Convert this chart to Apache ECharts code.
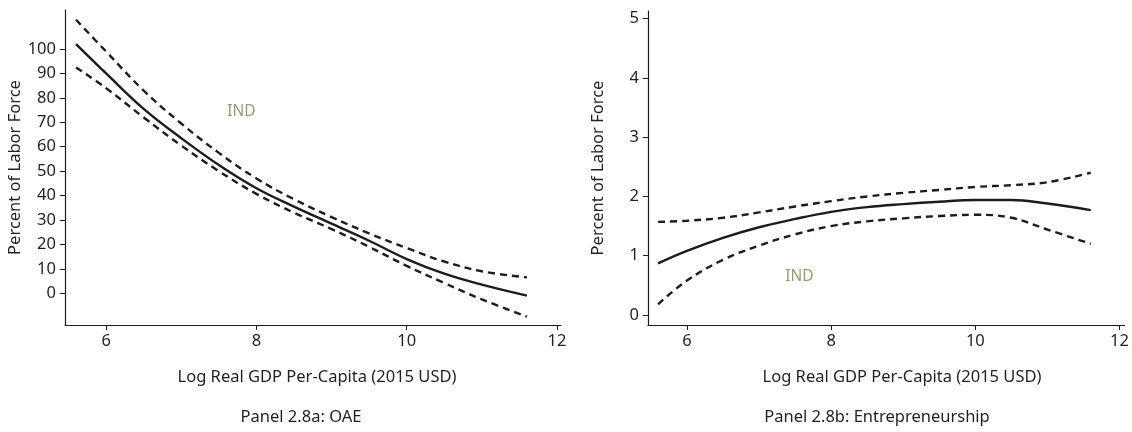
<!DOCTYPE html>
<html>
<head>
<meta charset="utf-8">
<script src="https://cdn.jsdelivr.net/npm/echarts@6/dist/echarts.min.js"></script>
<style>
  html, body { margin: 0; padding: 0; background: #fff; }
  #chart { width: 1132px; height: 432px; }
</style>
</head>
<body>
<div id="chart"></div>
<script>
// Log real GDP per-capita grid on which the fitted curves are evaluated
const gdpGrid = [5.6, 6.0, 6.5, 7.0, 7.5, 8.0, 8.5, 9.0, 9.5, 10.0, 10.5, 11.0, 11.6];

// Panel 2.8a: own-account employment (OAE), percent of labor force
const oaeFit   = [102, 90, 75.5, 63.5, 52.5, 43, 35.5, 28.5, 21.5, 14, 8, 3.5, -1];
const oaeUpper = [112, 99, 83, 69.5, 57.5, 47, 38.5, 31.2, 24.5, 18.5, 13, 9, 6.5];
const oaeLower = [92.5, 84, 72, 60.5, 50, 40.7, 33, 26.3, 19, 11.2, 4.2, -2.5, -9.6];

// Panel 2.8b: entrepreneurship, percent of labor force
const entFit   = [0.87, 1.08, 1.30, 1.48, 1.62, 1.74, 1.82, 1.87, 1.91, 1.94, 1.94, 1.88, 1.77];
const entUpper = [1.57, 1.59, 1.64, 1.73, 1.83, 1.92, 2.00, 2.06, 2.11, 2.16, 2.19, 2.24, 2.40];
const entLower = [0.18, 0.58, 0.93, 1.17, 1.36, 1.50, 1.58, 1.63, 1.67, 1.69, 1.64, 1.44, 1.20];

// India's position in each panel
const indOAE = [7.80, 74.6];
const indEnt = [7.56, 0.64];

// Tick labels
const xTicks = [6, 8, 10, 12];
const yTicksOAE = [0, 10, 20, 30, 40, 50, 60, 70, 80, 90, 100];
const yTicksEnt = [0, 1, 2, 3, 4, 5];

const FONT = 'Noto Sans';
const FS = 16.5;
const TXT = '#231f20';
const INK = '#1c1c1c';
const IND_COLOR = '#7f7f50';

const pairs = (xs, ys) => xs.map((x, i) => [x, ys[i]]);

function xAxis(gridIndex, min, max) {
  return {
    type: 'value', gridIndex, min, max,
    axisLine: { show: true, onZero: false, lineStyle: { color: INK, width: 1.2 } },
    axisTick: { show: true, length: 5, customValues: xTicks, lineStyle: { color: INK } },
    axisLabel: { customValues: xTicks, margin: 8, color: TXT, fontFamily: FONT, fontSize: FS },
    splitLine: { show: false }
  };
}
function yAxis(gridIndex, min, max, ticks, gap) {
  return {
    type: 'value', gridIndex, min, max,
    name: 'Percent of Labor Force', nameLocation: 'middle', nameGap: gap,
    nameTextStyle: { color: TXT, fontFamily: FONT, fontSize: FS },
    axisLine: { show: true, onZero: false, lineStyle: { color: INK, width: 1.2 } },
    axisTick: { show: true, length: 5, customValues: ticks, lineStyle: { color: INK } },
    axisLabel: { customValues: ticks, margin: 9, color: TXT, fontFamily: FONT, fontSize: FS },
    splitLine: { show: false }
  };
}
function curve(xi, yi, data, dashed) {
  return {
    type: 'line', xAxisIndex: xi, yAxisIndex: yi, data, smooth: 0.4,
    symbol: 'none', silent: true,
    lineStyle: { color: INK, width: 2.4, type: dashed ? [7, 5] : 'solid' }
  };
}
function label(xi, yi, pos) {
  return {
    type: 'scatter', xAxisIndex: xi, yAxisIndex: yi, data: [pos],
    symbolSize: 0, silent: true,
    label: { show: true, position: 'inside', formatter: 'IND',
             color: IND_COLOR, fontFamily: FONT, fontSize: 15.5 }
  };
}

const titleStyle = (text, x, y) => ({
  type: 'text', x, y,
  style: { text, fill: TXT, font: FS + 'px "Noto Sans"', textAlign: 'center', textVerticalAlign: 'middle' }
});

const chart = echarts.init(document.getElementById('chart'), null, { renderer: 'canvas' });
chart.setOption({
  animation: false,
  backgroundColor: '#ffffff',
  grid: [
    { left: 65, right: 571, top: 10, bottom: 107 },
    { left: 648, right: 0, top: 11, bottom: 107 }
  ],
  xAxis: [xAxis(0, 5.453, 12.053), xAxis(1, 5.46, 12.07)],
  yAxis: [yAxis(0, -13, 116, yTicksOAE, 40), yAxis(1, -0.17, 5.13, yTicksEnt, 41)],
  series: [
    curve(0, 0, pairs(gdpGrid, oaeUpper), true),
    curve(0, 0, pairs(gdpGrid, oaeLower), true),
    curve(0, 0, pairs(gdpGrid, oaeFit), false),
    label(0, 0, indOAE),
    curve(1, 1, pairs(gdpGrid, entUpper), true),
    curve(1, 1, pairs(gdpGrid, entLower), true),
    curve(1, 1, pairs(gdpGrid, entFit), false),
    label(1, 1, indEnt)
  ],
  graphic: [
    titleStyle('Log Real GDP Per-Capita (2015 USD)', 317, 377),
    titleStyle('Log Real GDP Per-Capita (2015 USD)', 902, 377),
    titleStyle('Panel 2.8a: OAE', 301, 417),
    titleStyle('Panel 2.8b: Entrepreneurship', 877, 417)
  ]
});
</script>
</body>
</html>
